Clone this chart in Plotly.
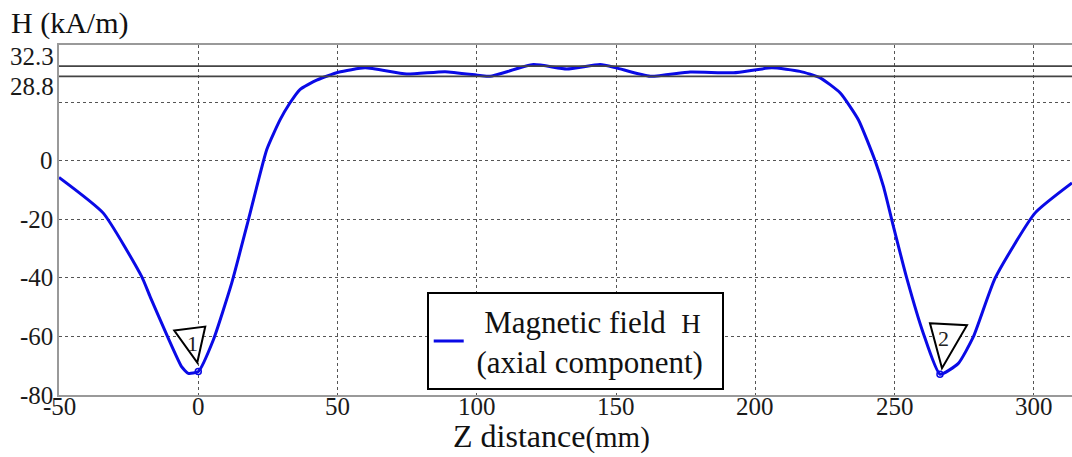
import plotly.graph_objects as go

# Data
z_mm = [-50, -34.1, -20.3, -17.3, -11.3, -6, -3.6, 0, 5.4, 12, 18, 24.6, 29.4, 32.9,
        36.5, 42.5, 50.3, 59.9, 74.8, 88.6, 101.1, 104.8, 120.3, 132.3, 144.3, 150,
        162.3, 176.6, 192.2, 205.9, 216, 223.3, 230.5, 237, 243, 246, 249.6, 254.4,
        260.3, 266.3, 272.9, 278.3, 286.1, 300.4, 313.7]
h_kam = [-5.7, -17.9, -39.6, -46.4, -59.5, -70.3, -72.6, -72.0, -61.2, -41.8, -20.2, 3.8,
         14.0, 19.7, 24.3, 27.5, 30.2, 31.7, 29.6, 30.4, 29.1, 28.8, 32.8, 31.3, 32.8, 31.7,
         28.8, 30.3, 30.0, 31.7, 30.5, 28.3, 23.1, 14.0, 0.0, -8.8, -22.5, -40.2, -58.9,
         -72.9, -69.2, -60.1, -40.1, -17.9, -7.6]
marker_idx = [7, 39]
marker_labels = ["1", "2"]
ref_levels = [32.3, 28.8]
ref_labels = ["32.3", "28.8"]
x_ticks = [-50, 0, 50, 100, 150, 200, 250, 300]
x_ticktext = ["-50", "0", "50", "100", "150", "200", "250", "300"]
y_ticks = [-80, -60, -40, -20, 0, 20]
y_ticktext = ["-80", "-60", "-40", "-20", "0", ""]

SERIF = "'Liberation Serif', 'Times New Roman', 'DejaVu Serif', serif"
BLUE = "#0a0ae6"
TXT = "#1a1a1a"

fig = go.Figure()
fig.add_trace(go.Scatter(
    x=z_mm, y=h_kam, mode="lines",
    line=dict(color=BLUE, width=3, shape="spline", smoothing=0.5),
    name=("&nbsp;&nbsp;Magnetic field&nbsp; <span style='font-size:27px'>H</span>&nbsp;&nbsp;"
          "<br>&nbsp;(axial component)"),
))
fig.add_trace(go.Scatter(
    x=[z_mm[i] for i in marker_idx], y=[h_kam[i] for i in marker_idx], mode="markers",
    marker=dict(symbol="circle-open", size=6, color=BLUE, line=dict(width=1.5)),
    showlegend=False, hoverinfo="skip",
))

shapes = []
for lv in ref_levels:
    shapes.append(dict(type="line", xref="paper", x0=0, x1=1, yref="y", y0=lv, y1=lv,
                       line=dict(color="#444", width=1.6), layer="above"))

tri_paths = ["M -24,41 L 7,45 L -1,9 Z", "M -10,51 L 27,49 L 2,6 Z"]
label_offsets = [(-6, 28), (4, 36)]
annotations = []
for k, i in enumerate(marker_idx):
    shapes.append(dict(type="path", xref="x", yref="y", xsizemode="pixel", ysizemode="pixel",
                       xanchor=z_mm[i], yanchor=h_kam[i], path=tri_paths[k],
                       fillcolor="white", line=dict(color="black", width=2), layer="above"))
    annotations.append(dict(x=z_mm[i], y=h_kam[i], xref="x", yref="y", text=marker_labels[k],
                            showarrow=False, xshift=label_offsets[k][0], yshift=label_offsets[k][1],
                            font=dict(family=SERIF, size=22, color="#222")))

# Axis tick labels (positioned by the axes' data coordinates)
for v, t in zip(x_ticks, x_ticktext):
    annotations.append(dict(x=v, y=0, xref="x", yref="paper", text=t, showarrow=False,
                            xanchor="center", yanchor="top", yshift=4,
                            font=dict(family=SERIF, size=25, color=TXT)))
for v, t in zip(y_ticks, y_ticktext):
    if t:
        annotations.append(dict(x=0, y=v, xref="paper", yref="y", text=t, showarrow=False,
                                xanchor="right", yanchor="middle", xshift=-4,
                                font=dict(family=SERIF, size=25, color=TXT)))
for v, t, dy in zip(ref_levels, ref_labels, [10, -10]):
    annotations.append(dict(x=0, y=v, xref="paper", yref="y", text=t, showarrow=False,
                            xanchor="right", yanchor="middle", xshift=-3, yshift=dy,
                            font=dict(family=SERIF, size=25, color=TXT)))

annotations.append(dict(x=-0.049, y=1.0, xref="paper", yref="paper", text="H (kA/m)", showarrow=False,
                        xanchor="left", yanchor="bottom", yshift=3,
                        font=dict(family=SERIF, size=30, color="#111")))
annotations.append(dict(x=0.486, y=-62 / 350, xref="paper", yref="paper",
                        text="Z distance<span style='font-size:29px'>(mm)</span>", showarrow=False,
                        xanchor="center", yanchor="bottom", yshift=1,
                        font=dict(family=SERIF, size=32, color="#111")))

fig.update_layout(
    width=1072, height=457,
    margin=dict(l=59, r=0, t=45, b=62, autoexpand=False),
    paper_bgcolor="white", plot_bgcolor="white",
    font=dict(family=SERIF, size=25, color=TXT),
    shapes=shapes, annotations=annotations,
    legend=dict(x=0.363, y=0.294, xanchor="left", yanchor="top",
                bgcolor="white", bordercolor="black", borderwidth=2,
                font=dict(family=SERIF, size=31, color="#111"),
                itemwidth=30),
    xaxis=dict(range=[-50, 313.7], tickmode="array", tickvals=x_ticks,
               showticklabels=False,
               showgrid=True, gridcolor="#555", griddash="dot", gridwidth=1,
               showline=True, linecolor="#999", linewidth=2, mirror=True,
               zeroline=False, ticks="", automargin=False),
    yaxis=dict(range=[-80, 39.5], tickmode="array", tickvals=y_ticks,
               showticklabels=False,
               showgrid=True, gridcolor="#555", griddash="dot", gridwidth=1,
               showline=True, linecolor="#999", linewidth=2,
               zeroline=False, ticks="", automargin=False),
)

fig.write_html("out.html", config={"displayModeBar": False},
               post_script="document.body.style.margin='0';document.body.style.padding='0';")
